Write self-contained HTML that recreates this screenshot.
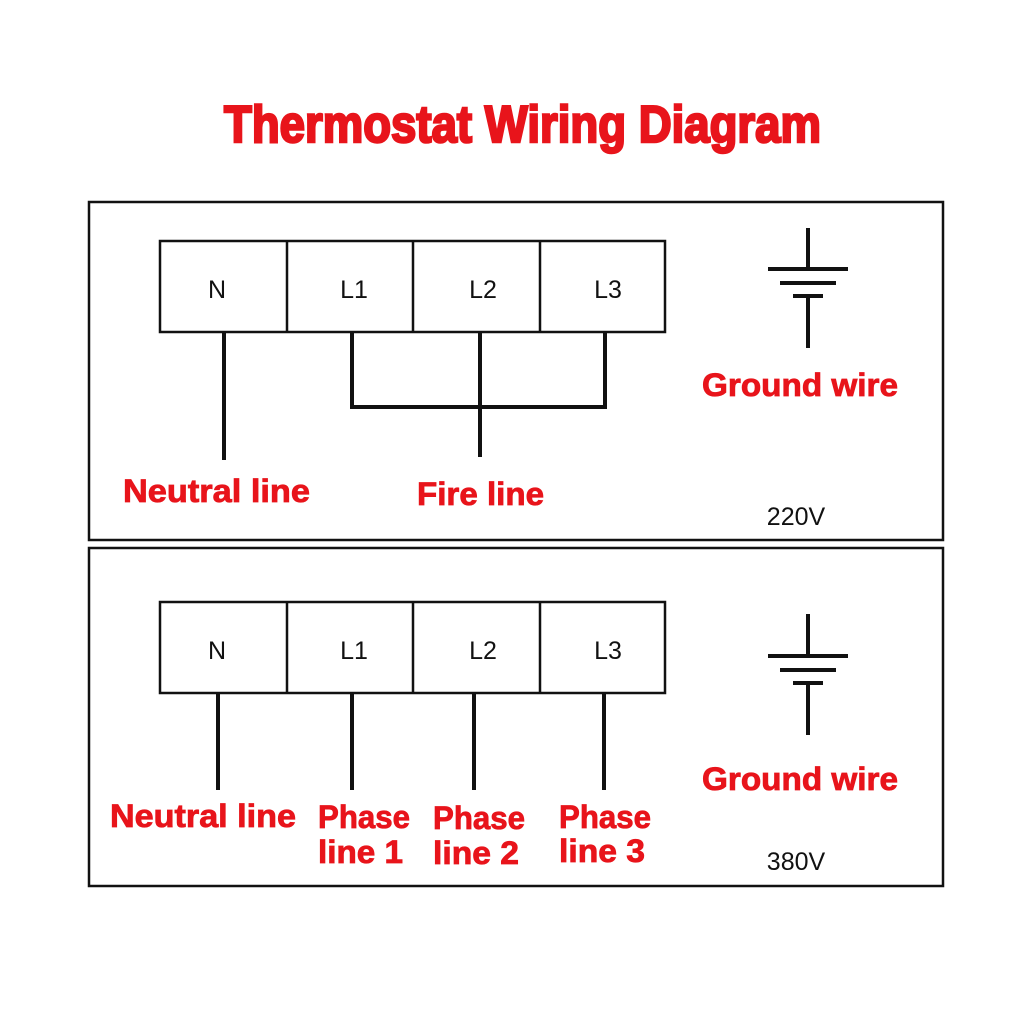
<!DOCTYPE html>
<html><head><style>html,body{margin:0;padding:0;background:#fff}</style></head>
<body>
<svg width="1024" height="1024" viewBox="0 0 1024 1024" xmlns="http://www.w3.org/2000/svg">
<rect width="1024" height="1024" fill="#fff"/>
<text x="224" y="142" font-family="Liberation Sans, sans-serif" font-weight="bold" font-size="52" fill="#e8141b" stroke="#e8141b" stroke-width="2.5" textLength="597" lengthAdjust="spacingAndGlyphs">Thermostat Wiring Diagram</text>
<g fill="none" stroke="#111" stroke-width="2.5">
<rect x="89" y="202" width="854" height="338"/>
<rect x="89" y="548" width="854" height="338"/>
<rect x="160" y="241" width="505" height="91"/>
<line x1="287" y1="241" x2="287" y2="332"/><line x1="413" y1="241" x2="413" y2="332"/><line x1="540" y1="241" x2="540" y2="332"/>
<rect x="160" y="602" width="505" height="91"/>
<line x1="287" y1="602" x2="287" y2="693"/><line x1="413" y1="602" x2="413" y2="693"/><line x1="540" y1="602" x2="540" y2="693"/>
</g>
<g stroke="#111" stroke-width="4" fill="none">
<line x1="224" y1="332" x2="224" y2="460"/>
<polyline points="352,332 352,407 605,407 605,332"/>
<line x1="480" y1="332" x2="480" y2="457"/>
<line x1="218" y1="693" x2="218" y2="790"/>
<line x1="352" y1="693" x2="352" y2="790"/>
<line x1="474" y1="693" x2="474" y2="790"/>
<line x1="604" y1="693" x2="604" y2="790"/>
<line x1="808" y1="228" x2="808" y2="269"/><line x1="768" y1="269" x2="848" y2="269"/><line x1="780" y1="283" x2="836" y2="283"/><line x1="793" y1="296" x2="823" y2="296"/><line x1="808" y1="296" x2="808" y2="348"/>
<line x1="808" y1="614" x2="808" y2="656"/><line x1="768" y1="656" x2="848" y2="656"/><line x1="780" y1="670" x2="836" y2="670"/><line x1="793" y1="683" x2="823" y2="683"/><line x1="808" y1="683" x2="808" y2="735"/>
</g>
<g font-family="Liberation Sans, sans-serif" font-size="25" fill="#111" text-anchor="middle">
<text x="217" y="298">N</text><text x="354" y="298">L1</text><text x="483" y="298">L2</text><text x="608" y="298">L3</text>
<text x="217" y="659">N</text><text x="354" y="659">L1</text><text x="483" y="659">L2</text><text x="608" y="659">L3</text>
<text x="796" y="525">220V</text><text x="796" y="870">380V</text>
</g>
<g font-family="Liberation Sans, sans-serif" font-weight="bold" font-size="32" fill="#e8141b" stroke="#e8141b" stroke-width="0.8">
<text x="702" y="396" textLength="196" lengthAdjust="spacingAndGlyphs">Ground wire</text>
<text x="123" y="502" textLength="187" lengthAdjust="spacingAndGlyphs">Neutral line</text>
<text x="417" y="505" textLength="127" lengthAdjust="spacingAndGlyphs">Fire line</text>
<text x="702" y="790" textLength="196" lengthAdjust="spacingAndGlyphs">Ground wire</text>
<text x="110" y="827" textLength="186" lengthAdjust="spacingAndGlyphs">Neutral line</text>
<text x="318" y="828" textLength="92" lengthAdjust="spacingAndGlyphs">Phase</text>
<text x="318" y="863" textLength="85" lengthAdjust="spacingAndGlyphs">line 1</text>
<text x="433" y="829" textLength="92" lengthAdjust="spacingAndGlyphs">Phase</text>
<text x="433" y="864" textLength="86" lengthAdjust="spacingAndGlyphs">line 2</text>
<text x="559" y="828" textLength="92" lengthAdjust="spacingAndGlyphs">Phase</text>
<text x="559" y="862" textLength="86" lengthAdjust="spacingAndGlyphs">line 3</text>
</g>
</svg>
</body></html>
